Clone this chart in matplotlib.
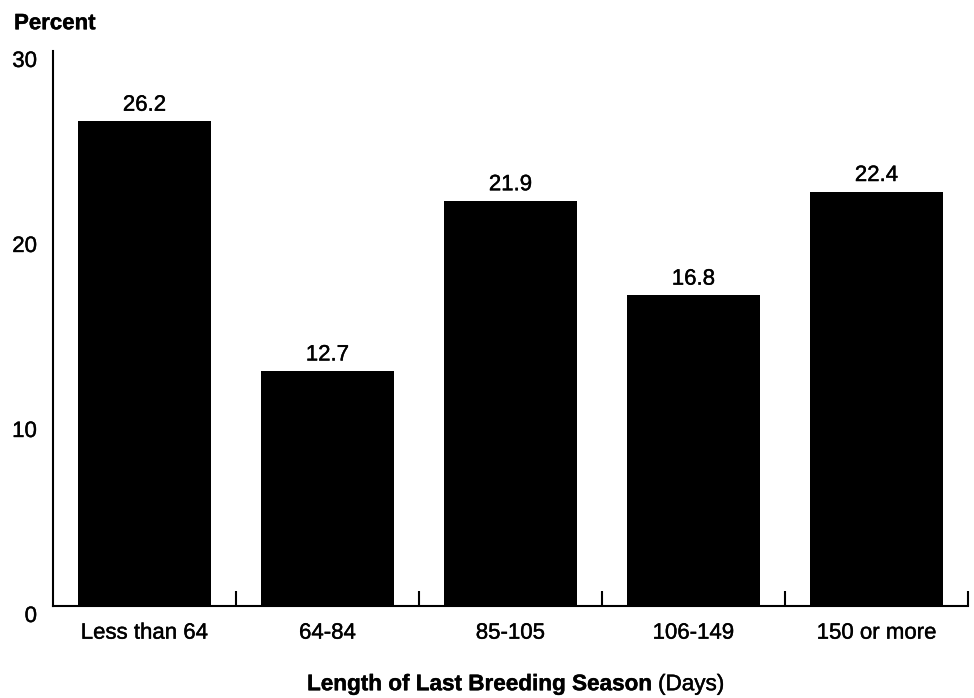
import matplotlib.pyplot as plt
import matplotlib.patheffects as pe
import numpy as np

plt.rcParams['font.family'] = ['Liberation Sans', 'DejaVu Sans']

categories = ['Less than 64', '64-84', '85-105', '106-149', '150 or more']
percent = [26.2, 12.7, 21.9, 16.8, 22.4]

# the original text is a little heavier than plain regular weight
heavy = [pe.withStroke(linewidth=0.3, foreground='black')]

fig = plt.figure(figsize=(9.74, 6.98), dpi=100)
ax = fig.add_axes([0.0544, 0.1318, 0.9394, 0.7952])

x = np.arange(len(categories))
bars = ax.bar(x, percent, width=0.727, color='black')

for xi, v in zip(x, percent):
    ax.text(xi, v + 0.3, f'{v:.1f}', ha='center', va='bottom', fontsize=16, path_effects=heavy)

ax.set_xlim(-0.5, len(categories) - 0.5)
ax.set_ylim(0, 30)
ax.spines['top'].set_visible(False)
ax.spines['right'].set_visible(False)
ax.spines['left'].set_linewidth(1.5)
ax.spines['bottom'].set_linewidth(1.5)

# category labels under bars, tick marks at the boundaries
ax.set_xticks(x)
ax.set_xticklabels(categories, fontsize=16, path_effects=heavy)
ax.tick_params(axis='x', which='major', length=0, pad=12)
ax.set_xticks(np.arange(0.5, len(categories)), minor=True)
ax.tick_params(axis='x', which='minor', direction='in', length=11, width=1.5)

ax.set_yticks([0, 10, 20, 30])
ax.set_yticklabels(['0', '10', '20', '30'], fontsize=16, va='top', path_effects=heavy)
ax.tick_params(axis='y', length=0, pad=11.5)

fig.text(0.0144, 0.966, 'Percent', fontsize=16, fontweight='bold', ha='left', va='center',
         path_effects=heavy)

fig.text(0.6756, 0.004, 'Length of Last Breeding Season ', fontsize=16.2, fontweight='bold',
         ha='right', va='bottom', path_effects=heavy)
fig.text(0.6756, 0.004, '(Days)', fontsize=16.2, ha='left', va='bottom', path_effects=heavy)

fig.savefig('out.png', dpi=100)
